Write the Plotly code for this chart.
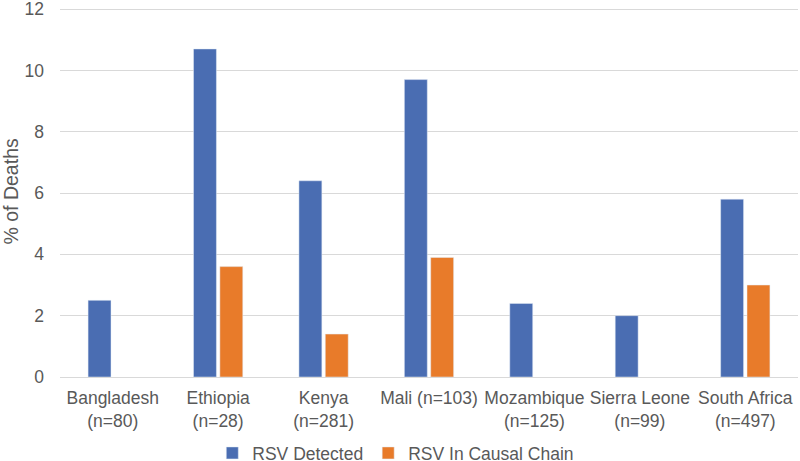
import plotly.graph_objects as go

categories = ["Bangladesh<br>(n=80)", "Ethiopia<br>(n=28)", "Kenya<br>(n=281)", "Mali (n=103)",
              "Mozambique<br>(n=125)", "Sierra Leone<br>(n=99)", "South Africa<br>(n=497)"]
rsv_detected = [2.5, 10.7, 6.4, 9.7, 2.4, 2.0, 5.8]
rsv_causal = [None, 3.6, 1.4, 3.9, None, None, 3.0]
y_ticks = [0, 2, 4, 6, 8, 10, 12]

fig = go.Figure()
fig.add_trace(go.Bar(x=categories, y=rsv_detected, name="RSV Detected", marker_color="#4A6DB2"))
fig.add_trace(go.Bar(x=categories, y=rsv_causal, name="RSV In Causal Chain", marker_color="#E87B2A"))

fig.update_layout(
    width=800, height=473,
    margin=dict(l=60, r=2, t=6, b=89),
    paper_bgcolor="white", plot_bgcolor="white",
    font=dict(family="Liberation Sans, Arial, sans-serif", size=17, color="#595959"),
    barmode="group", bargap=0.5, bargroupgap=0.13,
    showlegend=True,
    legend=dict(orientation="h", x=0.455, xanchor="center", y=-0.205, yanchor="middle",
                font=dict(size=17.5, color="#595959"), itemwidth=30, tracegroupgap=0),
    xaxis=dict(showgrid=False, showline=True, linecolor="#D9D9D9", linewidth=1, automargin=False,
               tickfont=dict(size=17.5, color="#595959"), ticks="", ticklabelstandoff=5),
    yaxis=dict(range=[0, 12.1], tickvals=y_ticks, showgrid=True, gridcolor="#D9D9D9", gridwidth=1,
               zeroline=False, showline=False, ticks="", ticklabelstandoff=15, automargin=False,
               ticklabeloverflow="allow",
               tickfont=dict(size=17.5, color="#595959")),
    annotations=[dict(text="% of Deaths", xref="paper", yref="paper", x=-0.0664, y=0.5,
                      xanchor="center", yanchor="middle", textangle=-90, showarrow=False,
                      font=dict(size=19.5, color="#595959"))],
)

fig.write_html(
    "out.html",
    config={"displayModeBar": False},
    post_script=(
        "document.body.style.margin='0';"
        "document.body.style.overflow='hidden';"
        "document.documentElement.style.overflow='hidden';"
    ),
)
